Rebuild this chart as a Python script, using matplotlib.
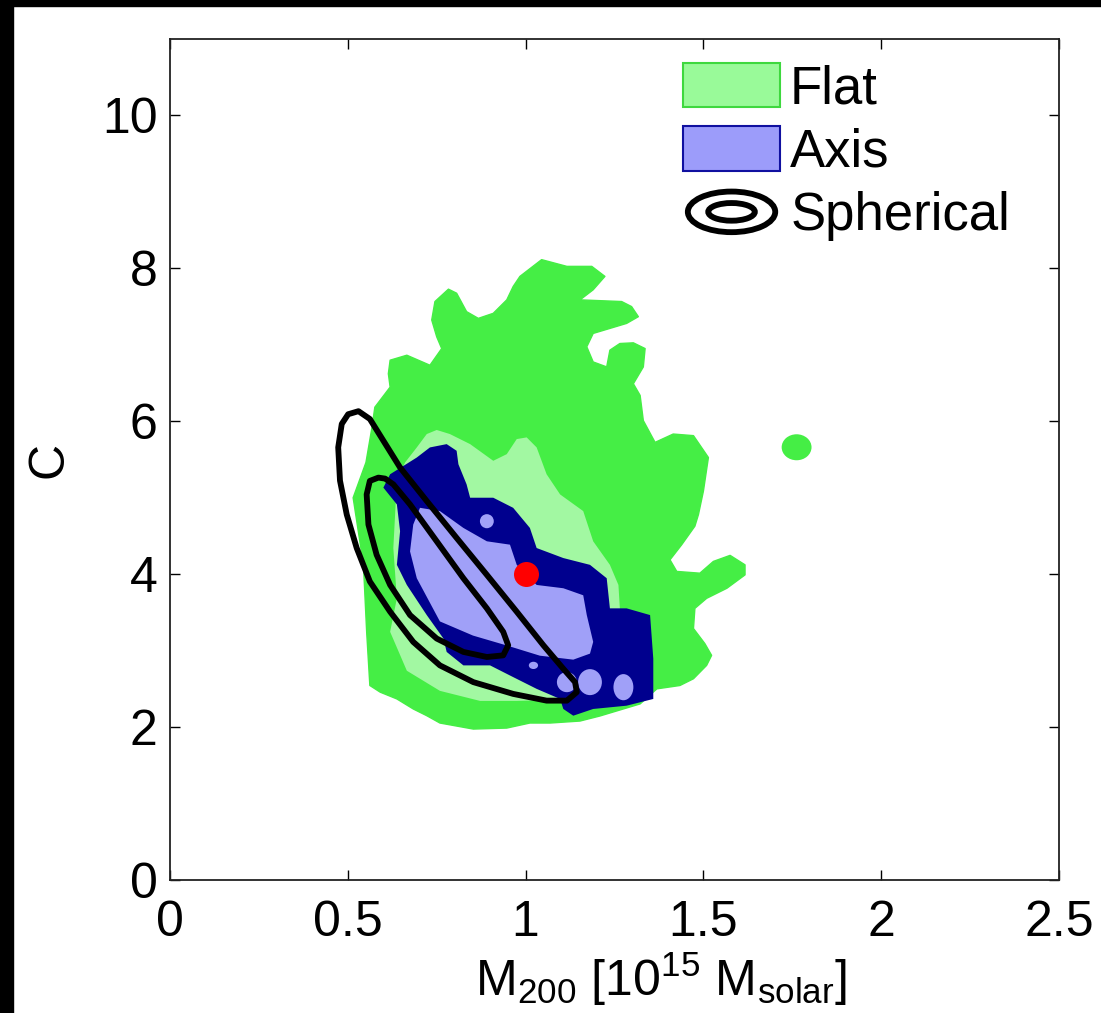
import matplotlib
matplotlib.use("Agg")
import matplotlib.pyplot as plt
from matplotlib.patches import Polygon, Ellipse, Rectangle, Patch
from matplotlib.lines import Line2D
from matplotlib.legend_handler import HandlerBase
import numpy as np

plt.rcParams['font.family'] = ['Liberation Sans', 'DejaVu Sans']
plt.rcParams['mathtext.fontset'] = 'custom'
plt.rcParams['mathtext.rm'] = 'Liberation Sans'
plt.rcParams['mathtext.it'] = 'Liberation Sans'

# flat model, outer (95%) contour
flat_outer_x = [1.045, 1.116, 1.186, 1.223, 1.190, 1.153, 1.270, 1.298, 1.317, 1.284,
                1.190, 1.172, 1.190, 1.228, 1.237, 1.265, 1.303, 1.336, 1.331, 1.303,
                1.322, 1.331, 1.364, 1.415, 1.472, 1.514, 1.500, 1.486, 1.476, 1.439,
                1.406, 1.425, 1.490, 1.528, 1.575, 1.617, 1.617, 1.566, 1.509, 1.476,
                1.472, 1.504, 1.523, 1.509, 1.472, 1.434, 1.369, 1.322, 1.209, 1.153,
                1.069, 1.012, 0.947, 0.853, 0.759, 0.722, 0.684, 0.638, 0.591, 0.562,
                0.553, 0.544, 0.515, 0.551, 0.568, 0.576, 0.619, 0.614, 0.619, 0.666,
                0.731, 0.764, 0.750, 0.736, 0.745, 0.783, 0.806, 0.834, 0.867, 0.909,
                0.947, 0.965, 0.984]
flat_outer_y = [8.114, 8.026, 8.026, 7.895, 7.720, 7.588, 7.566, 7.500, 7.368, 7.280,
                7.149, 6.974, 6.776, 6.711, 6.930, 7.017, 7.026, 6.951, 6.711, 6.491,
                6.338, 6.009, 5.724, 5.833, 5.812, 5.526, 5.088, 4.780, 4.628, 4.386,
                4.188, 4.036, 4.013, 4.167, 4.246, 4.122, 3.991, 3.816, 3.684, 3.553,
                3.289, 3.092, 2.938, 2.807, 2.632, 2.544, 2.500, 2.303, 2.145, 2.079,
                2.053, 2.053, 1.987, 1.974, 2.053, 2.149, 2.237, 2.368, 2.457, 2.544,
                3.246, 4.122, 5.000, 5.461, 5.921, 6.184, 6.447, 6.622, 6.799, 6.864,
                6.733, 6.951, 7.105, 7.325, 7.566, 7.728, 7.675, 7.434, 7.346, 7.412,
                7.588, 7.763, 7.895]

# detached island of the flat outer contour
flat_island = (1.762, 5.66, 0.084, 0.34)

# flat model, inner (68%) contour
flat_inner_x = [0.661, 0.694, 0.722, 0.750, 0.787, 0.844, 0.909, 0.947, 0.975, 1.003,
                1.031, 1.059, 1.097, 1.162, 1.190, 1.237, 1.261, 1.265, 1.251, 1.181,
                0.975, 0.872, 0.759, 0.666, 0.619, 0.638, 0.628, 0.638]
flat_inner_y = [5.461, 5.658, 5.833, 5.886, 5.833, 5.701, 5.483, 5.570, 5.767, 5.789,
                5.658, 5.307, 5.043, 4.825, 4.430, 4.122, 3.859, 3.553, 3.026, 2.368,
                2.342, 2.342, 2.474, 2.737, 3.246, 3.684, 4.342, 5.220]

# axis model, outer contour
axis_outer_x = [0.619, 0.694, 0.731, 0.778, 0.806, 0.811, 0.834, 0.844, 0.909, 0.965,
                1.012, 1.031, 1.106, 1.181, 1.228, 1.237, 1.284, 1.350, 1.359, 1.359,
                1.284, 1.190, 1.134, 1.106, 1.097, 1.031, 0.956, 0.900, 0.825, 0.778,
                0.769, 0.722, 0.666, 0.638, 0.647, 0.638, 0.600]
axis_outer_y = [5.307, 5.526, 5.658, 5.701, 5.614, 5.438, 5.175, 5.000, 5.000, 4.868,
                4.605, 4.342, 4.211, 4.122, 3.947, 3.553, 3.553, 3.465, 2.895, 2.368,
                2.280, 2.237, 2.149, 2.237, 2.368, 2.500, 2.675, 2.807, 2.807, 2.983,
                3.158, 3.465, 3.859, 4.122, 4.562, 4.912, 5.132]

# axis model, inner contour
axis_inner_x = [0.675, 0.684, 0.703, 0.759, 0.825, 0.891, 0.956, 0.975, 1.031, 1.106,
                1.162, 1.172, 1.190, 1.181, 1.134, 1.040, 0.948, 0.852, 0.759, 0.694]
axis_inner_y = [4.298, 4.649, 4.868, 4.825, 4.605, 4.430, 4.386, 4.122, 3.859, 3.816,
                3.724, 3.465, 3.114, 2.961, 2.882, 2.934, 3.066, 3.197, 3.382, 3.947]

# small islands of the axis inner contour: (x, y, width, height)
axis_islands = [(0.891, 4.693, 0.039, 0.184),
                (1.022, 2.807, 0.026, 0.095),
                (1.116, 2.588, 0.056, 0.263),
                (1.181, 2.588, 0.067, 0.340),
                (1.275, 2.522, 0.056, 0.342)]

# spherical model contours
sph_outer_x = [0.530, 0.562, 0.600, 0.647, 0.722, 0.806, 0.891, 0.975, 1.050, 1.106,
               1.139, 1.144, 1.116, 1.059, 0.965, 0.853, 0.759, 0.684, 0.619, 0.562,
               0.525, 0.497, 0.478, 0.473, 0.483, 0.501]
sph_outer_y = [6.132, 6.030, 5.746, 5.395, 4.957, 4.474, 3.991, 3.509, 3.070, 2.763,
               2.588, 2.457, 2.346, 2.346, 2.434, 2.588, 2.807, 3.114, 3.509, 3.904,
               4.342, 4.780, 5.224, 5.658, 5.965, 6.092]
sph_inner_x = [0.586, 0.605, 0.628, 0.675, 0.750, 0.825, 0.891, 0.937, 0.951, 0.937,
               0.891, 0.825, 0.750, 0.675, 0.619, 0.581, 0.558, 0.553, 0.562]
sph_inner_y = [5.263, 5.250, 5.175, 4.912, 4.430, 3.947, 3.553, 3.246, 3.070, 2.938,
               2.917, 2.983, 3.158, 3.465, 3.859, 4.254, 4.649, 5.043, 5.220]

true_m200 = 1.0
true_c = 4.0

green = '#45EE45'
light_green = '#A2F8A2'
navy = '#00008E'
light_blue = '#A0A0F8'
ring_lw = 4.2


class HandlerRings(HandlerBase):
    # two nested rings as the legend key for the contour lines
    def create_artists(self, legend, orig_handle, xdescent, ydescent,
                       width, height, fontsize, trans):
        cx = width / 2 - xdescent
        cy = height / 2 - ydescent
        outer = Ellipse((cx, cy), width * 0.9, height * 0.92, fill=False,
                        ec='black', lw=ring_lw, transform=trans)
        inner = Ellipse((cx, cy), width * 0.48, height * 0.4, fill=False,
                        ec='black', lw=ring_lw, transform=trans)
        return [outer, inner]


fig = plt.figure(figsize=(11.01, 10.13), dpi=100)
fig.patch.set_facecolor('white')
ax = fig.add_axes([0.1544, 0.1313, 0.8075, 0.8302])

ax.add_patch(Polygon(np.column_stack([flat_outer_x, flat_outer_y]), closed=True,
                     fc=green, ec=green, lw=1, joinstyle='round'))
ax.add_patch(Ellipse(flat_island[:2], flat_island[2], flat_island[3], fc=green, ec='none'))
ax.add_patch(Polygon(np.column_stack([flat_inner_x, flat_inner_y]), closed=True,
                     fc=light_green, ec='none'))
ax.add_patch(Polygon(np.column_stack([axis_outer_x, axis_outer_y]), closed=True,
                     fc=navy, ec='none'))
ax.add_patch(Polygon(np.column_stack([axis_inner_x, axis_inner_y]), closed=True,
                     fc=light_blue, ec='none'))
for x, y, w, h in axis_islands:
    ax.add_patch(Ellipse((x, y), w, h, fc=light_blue, ec='none'))

for xs, ys in [(sph_outer_x, sph_outer_y), (sph_inner_x, sph_inner_y)]:
    ax.add_patch(Polygon(np.column_stack([xs, ys]), closed=True, fill=False,
                         ec='black', lw=ring_lw, joinstyle='round'))

ax.plot([true_m200], [true_c], 'o', color='red', markersize=18, markeredgewidth=0)

ax.set_xlim(0, 2.5)
ax.set_ylim(0, 11)
ax.set_xticks([0, 0.5, 1, 1.5, 2, 2.5])
ax.set_xticklabels(['0', '0.5', '1', '1.5', '2', '2.5'])
ax.set_yticks([0, 2, 4, 6, 8, 10])
ax.tick_params(direction='in', length=7, width=1, top=True, right=True,
               labelsize=36, colors='black')
ax.tick_params(axis='x', pad=14.5)
ax.tick_params(axis='y', pad=9)
for s in ax.spines.values():
    s.set_linewidth(1.3)
    s.set_color('#222222')

ax.set_xlabel(r'M$_{200}$ [10$^{15}$ M$_{solar}$]', fontsize=36)
ax.xaxis.set_label_coords(0.552, -0.0845)
ax.set_ylabel('C', fontsize=36)
ax.yaxis.label.set_va('center')
ax.yaxis.set_label_coords(-0.136, 0.5)

h_flat = Patch(fc='#99FA99', ec='#3ED83E', lw=1.5)
h_axis = Patch(fc='#9C9CFA', ec='#1010A0', lw=1.5)
h_sph = Line2D([], [], color='black')
ax.legend([h_flat, h_axis, h_sph], ['Flat', 'Axis', 'Spherical'],
          handler_map={h_sph: HandlerRings()},
          loc='upper left', bbox_to_anchor=(0.577, 0.9715), borderaxespad=0,
          borderpad=0, frameon=False, fontsize=38, handlelength=1.84,
          handleheight=0.91, handletextpad=0.19, labelspacing=0.23)

# dark border strips along the left and top edges
fig.add_artist(Rectangle((0, 0), 13 / 1101, 1, transform=fig.transFigure,
                         color='black', zorder=10))
fig.add_artist(Rectangle((0, 1 - 6 / 1013), 1, 6 / 1013, transform=fig.transFigure,
                         color='black', zorder=10))

fig.savefig('out.png', dpi=100, facecolor=fig.get_facecolor())
